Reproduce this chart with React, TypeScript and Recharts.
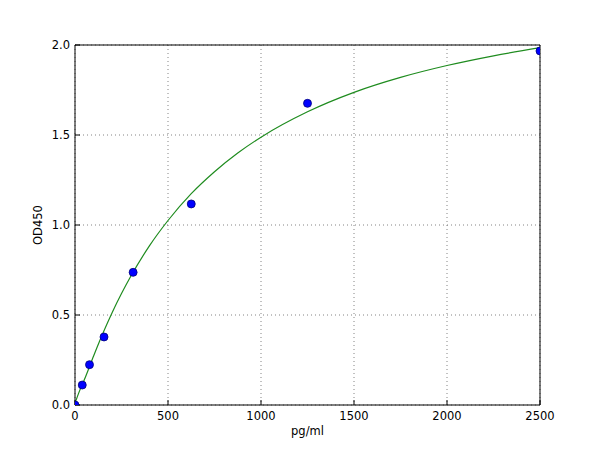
import {
  ComposedChart,
  CartesianGrid,
  XAxis,
  YAxis,
  Line,
  Scatter,
} from 'recharts';

// measured standards
const concentrations = [0, 39, 78, 156, 312.5, 625, 1250, 2500];
const odValues = [0.0, 0.111, 0.224, 0.378, 0.737, 1.117, 1.676, 1.967];

// fitted curve
const curveX = [0, 25, 50, 100, 150, 200, 250, 300, 400, 500, 625, 750, 875, 1000, 1250, 1500, 1750, 2000, 2250, 2500];
const curveY = [0.01, 0.08, 0.14, 0.272, 0.398, 0.514, 0.619, 0.715, 0.884, 1.025, 1.174, 1.296, 1.4, 1.488, 1.629, 1.737, 1.82, 1.886, 1.94, 1.985];

const xTicks = [0, 500, 1000, 1500, 2000, 2500];
const yTicks = [0, 0.5, 1.0, 1.5, 2.0];

const points = concentrations.map((x, i) => ({ x, y: odValues[i] }));
const curve = curveX.map((x, i) => ({ x, y: curveY[i] }));

const font = 'DejaVu Sans, sans-serif';
const tickStyle = { fill: '#000', fontSize: 11.5, fontFamily: font };

function Dot(props: any) {
  return <circle cx={props.cx} cy={props.cy} r={4} fill="#0000ff" stroke="#00007a" strokeWidth={0.8} />;
}

export default function App() {
  return (
    <div style={{ position: 'absolute', left: 0, top: 0, width: 600, height: 450, background: '#fff' }}>
      <ComposedChart width={600} height={450} margin={{ top: 44, right: 59, left: 0, bottom: 0 }}>
        <CartesianGrid xAxisId="b" yAxisId="l" stroke="#666" strokeDasharray="1 3" strokeWidth={0.8} />
        <XAxis
          xAxisId="b"
          dataKey="x"
          type="number"
          domain={[0, 2500]}
          ticks={xTicks}
          allowDataOverflow
          height={45}
          stroke="#000"
          tickSize={-5}
          tickMargin={12}
          tick={tickStyle}
          label={{ value: 'pg/ml', position: 'insideBottom', offset: 15, fill: '#000', fontSize: 11.5, fontFamily: font }}
        />
        <XAxis
          xAxisId="t"
          orientation="top"
          dataKey="x"
          type="number"
          domain={[0, 2500]}
          ticks={xTicks}
          height={1}
          stroke="#000"
          tickSize={-5}
          tick={false}
        />
        <YAxis
          yAxisId="l"
          dataKey="y"
          type="number"
          domain={[0, 2]}
          ticks={yTicks}
          allowDataOverflow
          width={75}
          stroke="#000"
          tickSize={-5}
          tickMargin={10}
          tick={tickStyle}
          tickFormatter={(v: number) => v.toFixed(1)}
          label={{ value: 'OD450', angle: -90, position: 'center', fill: '#000', fontSize: 11.5, fontFamily: font }}
        />
        <YAxis
          yAxisId="r"
          orientation="right"
          dataKey="y"
          type="number"
          domain={[0, 2]}
          ticks={yTicks}
          width={1}
          stroke="#000"
          tickSize={-5}
          tick={false}
        />
        <Line
          xAxisId="b"
          yAxisId="l"
          data={curve}
          dataKey="y"
          type="monotone"
          stroke="#1f8c1f"
          strokeWidth={1.2}
          dot={false}
          activeDot={false}
          isAnimationActive={false}
        />
        <Scatter
          xAxisId="b"
          yAxisId="l"
          data={points}
          dataKey="y"
          shape={Dot}
          isAnimationActive={false}
        />
      </ComposedChart>
    </div>
  );
}
